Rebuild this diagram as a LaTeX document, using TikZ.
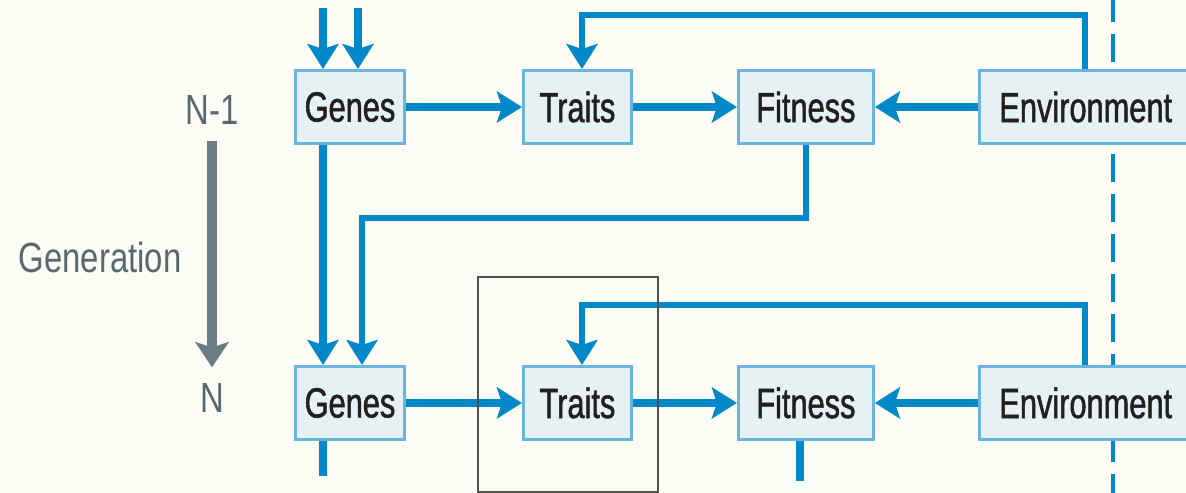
\documentclass[tikz,border=0pt]{standalone}
\usepackage{fontspec}
\setmainfont{Liberation Sans}[FakeStretch=0.78]
\newfontfamily\boxfont{Liberation Sans}[FakeStretch=0.73, FakeBold=1.2]
\usetikzlibrary{arrows.meta,positioning}

\definecolor{flow}{RGB}{0,136,200}
\definecolor{boxfill}{RGB}{229,241,243}
\definecolor{boxline}{RGB}{108,180,224}
\definecolor{gentone}{RGB}{108,124,132}
\definecolor{labeltone}{RGB}{88,104,112}
\definecolor{paper}{RGB}{252,252,245}
\definecolor{ink}{RGB}{35,31,32}
\definecolor{frame}{RGB}{80,80,80}

\tikzset{
  box/.style={draw=boxline, fill=boxfill, line width=1.7pt, minimum height=1.46cm,
    inner sep=0pt, text=ink, font=\boxfont\fontsize{24}{28}\selectfont},
  link/.style={flow, line width=5pt, -{Stealth[length=0.5cm,width=0.62cm,inset=0.1cm]}},
  back/.style={flow, line width=3.4pt},
  backtip/.style={back, -{Stealth[length=0.5cm,width=0.62cm,inset=0.1cm]}},
  gen/.style={text=labeltone, font=\fontsize{24}{28}\selectfont},
}

\begin{document}
\begin{tikzpicture}[x=0.02cm, y=-0.02cm]
\useasboundingbox[fill=paper] (0,0) rectangle (1186,493);

% generation axis
\node[gen] (past) at (212,110) {N-1};
\node[gen] (now) at (212,398) {N};
\node[gen] (genlabel) at (100,257) {Generation};
\draw[gentone, line width=5.6pt, shorten <=0.2cm, shorten >=0.2cm,
  -{Stealth[length=0.5cm,width=0.66cm,inset=0.1cm]}] (past) -- (now);

% dashed boundary
\draw[flow, line width=2.8pt, dash pattern=on 0.56cm off 0.24cm] (1113,-6) -- (1113,500);

% generation N-1
\node[box, minimum width=2.18cm] (genesA) at (350,107) {Genes};
\node[box, minimum width=2.16cm, right=2.32cm of genesA] (traitsA) {Traits};
\node[box, minimum width=2.7cm, right=2.08cm of traitsA] (fitnessA) {Fitness};
\node[box, inner xsep=0.4cm, right=2.06cm of fitnessA] (envA) {Environment\hspace{0.6cm}};

% generation N
\node[box, minimum width=2.18cm, below=4.4cm of genesA] (genesB) {Genes};
\node[box, minimum width=2.16cm, right=2.32cm of genesB] (traitsB) {Traits};
\node[box, minimum width=2.7cm, right=2.08cm of traitsB] (fitnessB) {Fitness};
\node[box, inner xsep=0.4cm, right=2.06cm of fitnessB] (envB) {Environment\hspace{0.6cm}};

\coordinate (inA) at (323,8);
\coordinate (inB) at (358,8);
\coordinate (genesOut) at (323,476);
\coordinate (fitOut) at (800,481);

% inputs from above
\draw[link] (inA) -- (inA |- genesA.north);
\draw[link] (inB) -- (inB |- genesA.north);

\draw[link] (genesA) -- (traitsA);
\draw[link] (traitsA) -- (fitnessA);
\draw[link] (envA) -- (fitnessA);
\draw[backtip] (1085,0 |- envA.north) |- (582,15) -- (582,0 |- traitsA.north);

% inheritance down to generation N
\draw[link] (inA |- genesA.south) -- (inA |- genesB.north);
\draw[backtip] (fitnessA.south) |- (362,218) -- (362,0 |- genesB.north);

\draw[link] (genesB) -- (traitsB);
\draw[link] (traitsB) -- (fitnessB);
\draw[link] (envB) -- (fitnessB);
\draw[backtip] (1085,0 |- envB.north) |- (582,305) -- (582,0 |- traitsB.north);

\draw[link, -] (genesOut |- genesB.south) -- (genesOut);
\draw[link, -] (fitOut |- fitnessB.south) -- (fitOut);

% focus frame
\node[draw=frame, line width=1.6pt, minimum width=3.6cm, minimum height=4.3cm] (focus) at (568,384.5) {};
\end{tikzpicture}
\end{document}
